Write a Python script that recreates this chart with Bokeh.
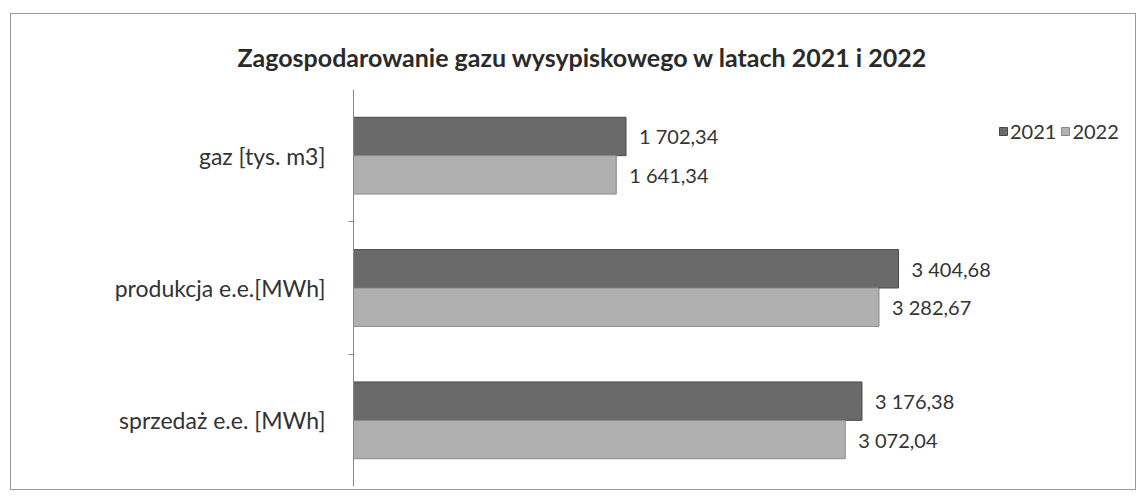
from bokeh.plotting import figure
from bokeh.models import ColumnDataSource, FixedTicker, Range1d, Legend, LegendItem, Title
from bokeh.core.properties import value
from bokeh.embed import file_html
from bokeh.resources import INLINE

# ---- data ----
categories = ["gaz [tys. m3]", "produkcja e.e.[MWh]", "sprzedaż e.e. [MWh]"]
series_names = ["2021", "2022"]
values_2021 = [1702.34, 3404.68, 3176.38]
values_2022 = [1641.34, 3282.67, 3072.04]
title_text = "Zagospodarowanie gazu wysypiskowego w latach 2021 i 2022"

def fmt(v):
    s = f"{v:,.2f}"
    return s.replace(",", " ").replace(".", ",")

n = len(categories)
centers = [n - 1 - i + 0.5 for i in range(n)]
bar_h = 0.29

src21 = ColumnDataSource(dict(y=[c + bar_h / 2 for c in centers], v=values_2021,
                              lab=[fmt(v) for v in values_2021]))
src22 = ColumnDataSource(dict(y=[c - bar_h / 2 for c in centers], v=values_2022,
                              lab=[fmt(v) for v in values_2022]))

FONT = "Lato"
TXT = "#333333"

p = figure(width=1126, height=477, output_backend="svg", toolbar_location=None,
           x_range=Range1d(0, 4860), y_range=Range1d(0, n),
           min_border_left=342, min_border_right=6, min_border_top=75, min_border_bottom=5)
p.styles = {"border": "1px solid #9a9a9a", "margin-left": "10px", "margin-top": "13px"}
p.outline_line_color = None
p.grid.grid_line_color = None
p.xaxis.visible = False

yax = p.yaxis[0]
yax.ticker = FixedTicker(ticks=centers, minor_ticks=[1, 2])
yax.major_label_overrides = {c: cat for c, cat in zip(centers, categories)}
yax.major_tick_out = 0
yax.major_tick_in = 0
yax.minor_tick_out = 5
yax.minor_tick_in = 0
yax.minor_tick_line_color = "#8a8a8a"
yax.axis_line_color = "#8a8a8a"
yax.major_label_standoff = 23
yax.major_label_text_font = FONT
yax.major_label_text_font_size = "23px"
yax.major_label_text_color = TXT

r21 = p.hbar(y="y", right="v", left=0, height=bar_h, source=src21,
             fill_color="#6a6a6a", line_color="#4a4a4a", line_width=1)
r22 = p.hbar(y="y", right="v", left=0, height=bar_h, source=src22,
             fill_color="#b0b0b0", line_color="#8a8a8a", line_width=1)

for s in (src21, src22):
    p.text(x="v", y="y", text="lab", source=s, x_offset=13,
           text_baseline="middle", text_align="left",
           text_font=value(FONT), text_font_size="20px", text_color=TXT)

title = Title(text=title_text, align="left", offset=-116, standoff=36,
              text_font=FONT, text_font_size="25px", text_font_style="bold",
              text_color="#2a2a2a")
p.add_layout(title, "above")

legend = Legend(items=[LegendItem(label=series_names[0], renderers=[r21]),
                       LegendItem(label=series_names[1], renderers=[r22])],
                location=(645, 343), orientation="horizontal",
                border_line_color=None, background_fill_alpha=0,
                label_text_font=FONT, label_text_font_size="20px", label_text_color=TXT,
                glyph_width=10, glyph_height=10, label_standoff=2, spacing=4,
                padding=0, margin=0)
p.add_layout(legend)

open("out.html", "w").write(file_html(p, INLINE))
